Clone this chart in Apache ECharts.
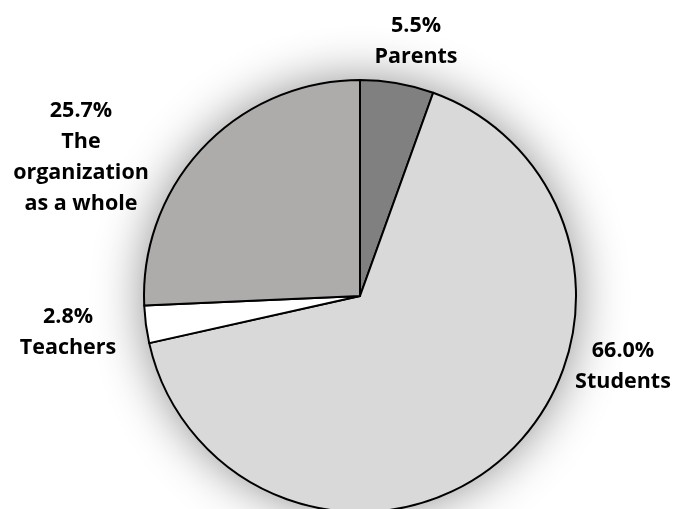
<!DOCTYPE html>
<html>
<head>
<meta charset="utf-8">
<script src="https://cdn.jsdelivr.net/npm/echarts@6/dist/echarts.min.js"></script>
<style>html,body{margin:0;padding:0;background:#fff}#c{width:673px;height:509px}</style>
</head>
<body>
<div id="c"></div>
<script>
var categories = ['Parents', 'Students', 'Teachers', 'The\norganization\nas a whole'];
var values = [5.5, 66.0, 2.8, 25.7];
var colors = ['#808080', '#d9d9d9', '#ffffff', '#aeabab'];
// label anchor positions (layout only)
var labelPos = [[416, 41], [623, 366], [68, 332], [81, 157]];

var chart = echarts.init(document.getElementById('c'));
chart.setOption({
  backgroundColor: '#ffffff',
  animation: false,
  series: [
    {
      type: 'pie', silent: true, center: [360, 296], radius: 216,
      label: {show: false}, labelLine: {show: false},
      itemStyle: {color: '#ffffff', shadowBlur: 50, shadowColor: 'rgba(0,0,0,0.45)'},
      data: [{value: 1}]
    },
    {
      type: 'pie', center: [360, 296], radius: 216, startAngle: 90, clockwise: true,
      avoidLabelOverlap: false,
      itemStyle: {borderColor: '#000', borderWidth: 2},
      label: {
        show: true, position: 'outside',
        formatter: function (p) { return p.value.toFixed(1) + '%\n' + p.name; },
        fontFamily: 'Open Sans', fontWeight: 'bold', fontSize: 21.5, lineHeight: 31, color: '#000', align: 'center'
      },
      labelLine: {show: false},
      labelLayout: function (p) {
        var pos = labelPos[p.dataIndex];
        return {x: pos[0], y: pos[1], align: 'center', verticalAlign: 'middle'};
      },
      data: categories.map(function (c, i) {
        return {name: c, value: values[i], itemStyle: {color: colors[i]}};
      })
    }
  ]
});
</script>
</body>
</html>
